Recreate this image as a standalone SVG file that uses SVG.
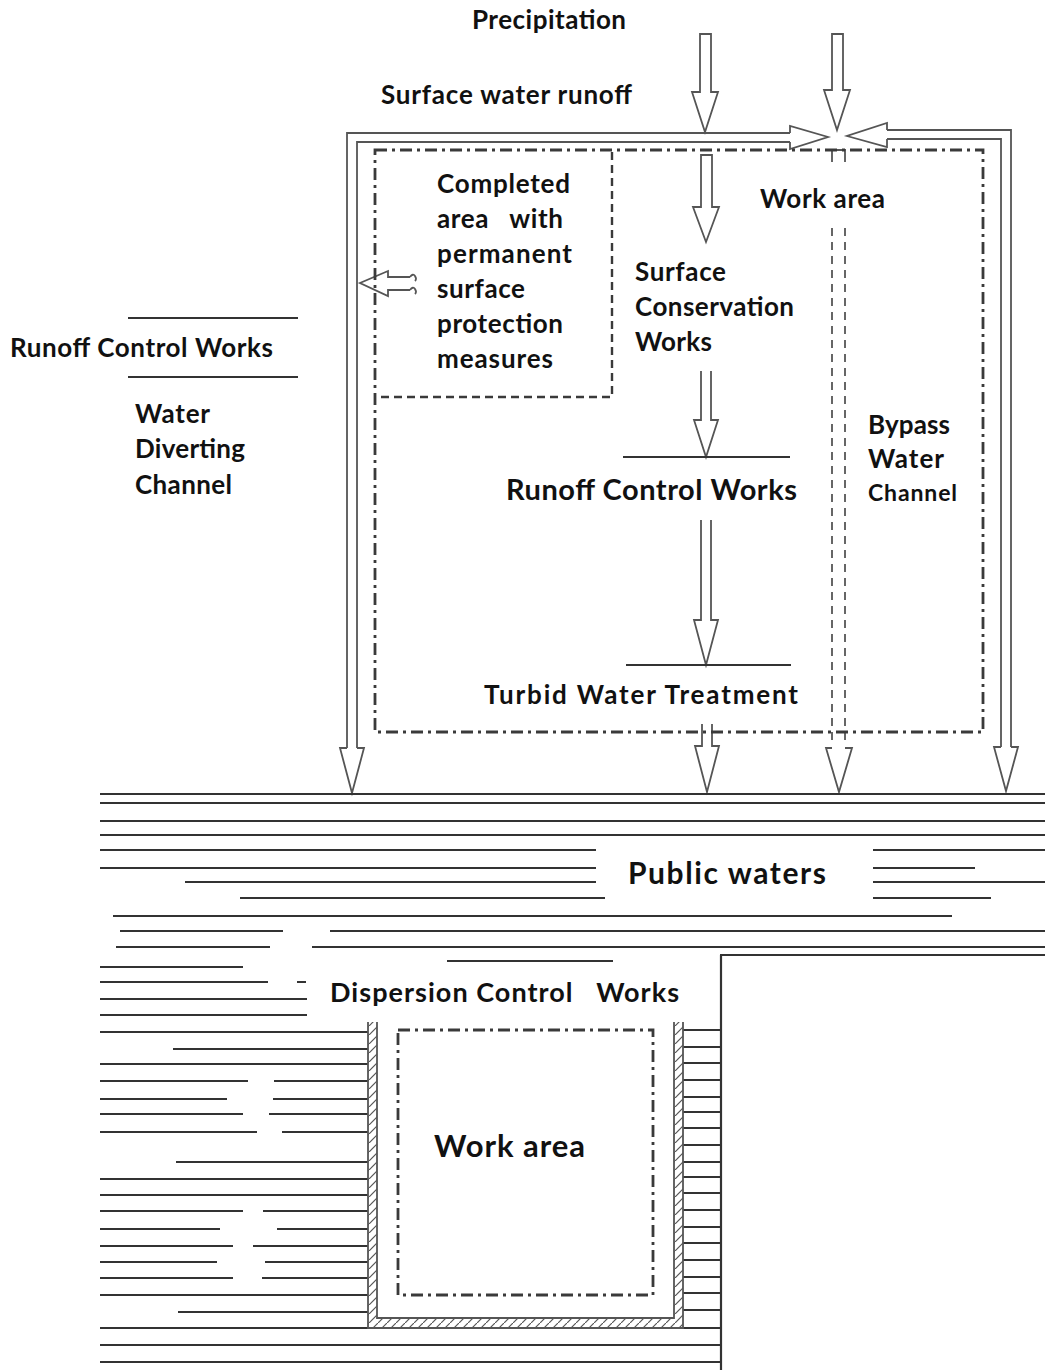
<svg xmlns="http://www.w3.org/2000/svg" width="1049" height="1370" viewBox="0 0 1049 1370">
<defs>
<style>
.t{font-family:Lato,"Open Sans","Liberation Sans",sans-serif;font-weight:700;fill:#111;font-size:26px}
.ln{stroke:#333;stroke-width:2;fill:none}
.w{stroke:#333;stroke-width:2.2;fill:none}
.arr{stroke:#555;stroke-width:1.8;fill:#fff;stroke-linejoin:miter}
.ch{stroke:#555;stroke-width:1.8;fill:none}
.dd{stroke:#3a3a3a;stroke-width:2.8;fill:none;stroke-dasharray:12 5 3 5}
.ds{stroke:#3a3a3a;stroke-width:2.4;fill:none;stroke-dasharray:8 5}
.bp{stroke:#666;stroke-width:2;fill:none;stroke-dasharray:8 6}
</style>
<pattern id="hatch" patternUnits="userSpaceOnUse" width="9" height="9">
<path d="M0,9 L9,0" stroke="#555" stroke-width="1.2"/>
</pattern>
</defs>
<rect width="1049" height="1370" fill="#fff"/>

<g id="connectors">
<path class="ch" d="M347,748 V133 H790"/>
<path class="ch" d="M357,748 V142 H790"/>
<path class="arr" d="M790,133 V126 L828,137 L790,149 V142" fill="none"/>
<path class="arr" d="M347,748 H340 L352,793 L364,748 H357" fill="none"/>
<path class="ch" d="M1011,747 V130 H887"/>
<path class="ch" d="M1001,747 V139 H887"/>
<path class="arr" d="M887,130 V123 L847,136 L887,147 V139" fill="none"/>
<path class="arr" d="M1001,747 H994 L1006,791 L1018,747 H1011" fill="none"/>
<path class="arr" d="M700,34 H711 V92 H718 L705,132 L692,92 H700 Z"/>
<path class="arr" d="M832,34 H843 V90 H850 L837,130 L824,90 H832 Z"/>
<path class="arr" d="M701,155 H712 V207 H719 L706,242 L693,207 H701 Z"/>
<path class="arr" d="M701,371 V420 H694 L706,457 L718,420 H711 V371" fill="none"/>
<path class="arr" d="M701,520 V620 H694 L706,665 L718,620 H711 V520" fill="none"/>
<path class="arr" d="M702,724 V746 H695 L707,792 L719,746 H712 V724" fill="none"/>
<path class="bp" d="M832,228 V745 M845,228 V745"/>
<path class="ch" d="M831,150 H846 M832,150 V162 M845,150 V162"/>
<path class="arr" d="M832,748 H826 L839,792 L852,748 H845" fill="none"/>
<path class="arr" d="M410,277 H388 V271 L360,283 L388,296 V290 H410" fill="none"/>
<path class="ch" d="M410,277 q3,-4 5,-1 q2,3 0,5 M410,290 q3,-4 5,-1 q2,3 0,5"/>
</g>

<g id="label-lines">
<line class="ln" x1="128" y1="318" x2="298" y2="318" stroke-width="1.5"/>
<line class="ln" x1="128" y1="377" x2="298" y2="377" stroke-width="1.5"/>
<line class="ln" x1="623" y1="457" x2="790" y2="457" stroke-width="1.8"/>
<line class="ln" x1="626" y1="665" x2="791" y2="665" stroke-width="1.8"/>
</g>

<g id="work-area-top">
<rect class="dd" x="375" y="150" width="608" height="582"/>
<path class="ds" d="M612,152 V397 H376"/>
</g>

<g id="public-waters">
<path class="w" stroke-width="2.8" d="M100,794 H1045"/>
<path class="w" d="M100,803 H1045 M100,821 H1045 M100,835 H1045
M100,850 H596 M873,850 H1045
M100,868 H596 M873,868 H975
M185,882 H596 M873,882 H1045
M240,898 H605 M873,898 H991
M113,916 H952
M120,931 H283 M330,931 H1045
M116,947 H270 M312,947 H1045
M720,955 H1045
M447,961 H613
M100,967 H243
M100,982 H268 M297,982 H306
M100,999 H307
M100,1015 H307
M100,1032 H368
M173,1049 H368
M100,1064 H368
M100,1081 H248 M274,1081 H368
M100,1099 H227 M273,1099 H368
M100,1114 H243 M269,1114 H368
M100,1132 H257 M282,1132 H368
M176,1162 H368
M100,1179 H368
M100,1195 H368
M100,1211 H243 M263,1211 H368
M100,1229 H220 M277,1229 H368
M100,1246 H233 M253,1246 H368
M100,1262 H217 M265,1262 H368
M100,1278 H233 M262,1278 H368
M100,1295 H368
M178,1312 H368
M100,1328 H722
M100,1345 H722
M100,1362 H722
M683,1030 H721 M683,1047 H721 M683,1063 H721 M683,1080 H721 M683,1097 H721 M683,1112 H721
M683,1128 H721 M683,1145 H721 M683,1162 H721 M683,1177 H721 M683,1193 H721 M683,1210 H721
M683,1227 H721 M683,1243 H721 M683,1260 H721 M683,1277 H721 M683,1293 H721 M683,1310 H721
M721,955 V1370"/>
</g>

<g id="dispersion-wall">
<rect x="368" y="1022" width="9" height="306" fill="url(#hatch)"/>
<rect x="674" y="1022" width="9" height="306" fill="url(#hatch)"/>
<rect x="377" y="1318" width="297" height="10" fill="url(#hatch)"/>
<path class="ch" d="M368,1022 V1328 H683 V1022 M377,1022 V1318 H674 V1022"/>
</g>

<g id="work-area-bottom">
<rect class="dd" x="398" y="1030" width="255" height="265"/>
</g>

<g id="labels">
<text class="t" x="472" y="29" textLength="154">Precipitation</text>
<text class="t" x="381" y="104" textLength="251">Surface water runoff</text>
<text class="t" x="437" y="193" textLength="133">Completed</text>
<text class="t" x="437" y="228" textLength="126" xml:space="preserve">area   with</text>
<text class="t" x="437" y="263" textLength="135">permanent</text>
<text class="t" x="437" y="298" textLength="88">surface</text>
<text class="t" x="437" y="333" textLength="126">protection</text>
<text class="t" x="437" y="368" textLength="116">measures</text>
<text class="t" x="760" y="208" textLength="125">Work area</text>
<text class="t" x="635" y="281" textLength="91">Surface</text>
<text class="t" x="635" y="316" textLength="159">Conservation</text>
<text class="t" x="635" y="351" textLength="77">Works</text>
<text class="t" x="10" y="357" textLength="263">Runoff Control Works</text>
<text class="t" x="135" y="423" textLength="75">Water</text>
<text class="t" x="135" y="458" textLength="110">Diverting</text>
<text class="t" x="135" y="494" textLength="97">Channel</text>
<text class="t" x="506" y="500" style="font-size:29px" textLength="291">Runoff Control Works</text>
<text class="t" x="868" y="434" textLength="82">Bypass</text>
<text class="t" x="868" y="468" textLength="76">Water</text>
<text class="t" x="868" y="501" style="font-size:23px" textLength="89">Channel</text>
<text class="t" x="484" y="704" textLength="314">Turbid Water Treatment</text>
<text class="t" x="628" y="884" style="font-size:30px" textLength="198">Public waters</text>
<text class="t" x="330" y="1002" style="font-size:27px" textLength="349" xml:space="preserve">Dispersion Control   Works</text>
<text class="t" x="434" y="1157" style="font-size:31px" textLength="151">Work area</text>
</g>
</svg>
